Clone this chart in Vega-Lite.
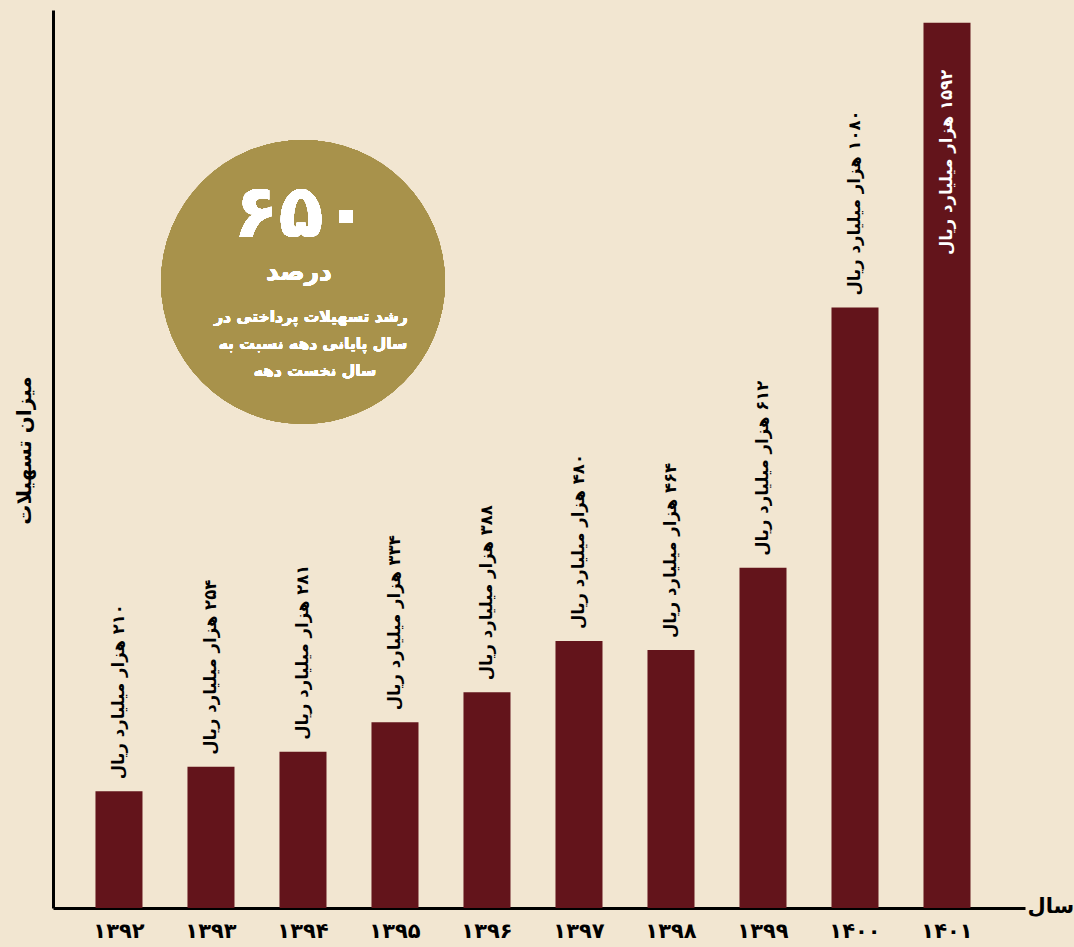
{
  "$schema": "https://vega.github.io/schema/vega-lite/v6.json",
  "width": 972,
  "height": 898,
  "autosize": {"type": "none"},
  "padding": {"left": 53, "top": 10, "right": 49, "bottom": 39},
  "background": "#f2e6d1",
  "config": {
    "view": {"stroke": null},
    "font": "DejaVu Sans",
    "axis": {"domainColor": "#000000", "domainWidth": 3, "ticks": false, "grid": false}
  },
  "data": {
    "values": [
      {"year": "۱۳۹۲", "value": 210, "label": "\u200f۲۱۰ هزار میلیارد ریال"},
      {"year": "۱۳۹۳", "value": 254, "label": "\u200f۲۵۴ هزار میلیارد ریال"},
      {"year": "۱۳۹۴", "value": 281, "label": "\u200f۲۸۱ هزار میلیارد ریال"},
      {"year": "۱۳۹۵", "value": 334, "label": "\u200f۳۳۴ هزار میلیارد ریال"},
      {"year": "۱۳۹۶", "value": 388, "label": "\u200f۳۸۸ هزار میلیارد ریال"},
      {"year": "۱۳۹۷", "value": 480, "label": "\u200f۴۸۰ هزار میلیارد ریال"},
      {"year": "۱۳۹۸", "value": 464, "label": "\u200f۴۶۴ هزار میلیارد ریال"},
      {"year": "۱۳۹۹", "value": 612, "label": "\u200f۶۱۲ هزار میلیارد ریال"},
      {"year": "۱۴۰۰", "value": 1080, "label": "\u200f۱۰۸۰ هزار میلیارد ریال"},
      {"year": "۱۴۰۱", "value": 1592, "label": "\u200f۱۵۹۲ هزار میلیارد ریال"}
    ]
  },
  "encoding": {
    "x": {
      "field": "year",
      "type": "ordinal",
      "sort": null,
      "scale": {"paddingInner": 0.489, "paddingOuter": 0.527, "align": 0.438},
      "axis": {
        "title": "سال",
        "titleFontSize": 21,
        "titleFontWeight": "bold",
        "titleColor": "#000000",
        "titleX": 974,
        "titleY": -2,
        "titleAlign": "left",
        "titleBaseline": "middle",
        "titleAngle": 0,
        "labelAngle": 0,
        "labelFontSize": 21,
        "labelFontWeight": "bold",
        "labelColor": "#000000",
        "labelPadding": 12,
        "labelBaseline": "top"
      }
    },
    "y": {
      "field": "value",
      "type": "quantitative",
      "scale": {"domain": [0, 1615], "nice": false},
      "axis": {
        "title": "میزان تسهیلات",
        "titleFontSize": 20,
        "titleFontWeight": "bold",
        "titleColor": "#000000",
        "titleX": -29,
        "titleY": 440,
        "titleAngle": 270,
        "titleAlign": "center",
        "titleBaseline": "middle",
        "labels": false
      }
    }
  },
  "layer": [
    {"mark": {"type": "bar", "color": "#63141b"}},
    {
      "transform": [{"filter": "datum.year != '۱۴۰۱'"}],
      "mark": {"type": "text", "angle": 270, "align": "left", "baseline": "middle", "dx": 12, "fontSize": 16.5, "fontWeight": "bold", "color": "#000000"},
      "encoding": {"text": {"field": "label"}}
    },
    {
      "transform": [{"filter": "datum.year == '۱۴۰۱'"}],
      "mark": {"type": "text", "angle": 270, "align": "right", "baseline": "middle", "dx": -47, "fontSize": 16.5, "fontWeight": "bold", "color": "#ffffff"},
      "encoding": {"text": {"field": "label"}}
    },
    {
      "mark": {"type": "point", "shape": "circle", "filled": true, "opacity": 1, "color": "#a8924b", "size": 80600},
      "encoding": {"x": {"datum": "۱۳۹۴"}, "y": {"datum": 1126}}
    },
    {
      "mark": {"type": "text", "align": "center", "baseline": "middle", "fontSize": 74, "fontWeight": "bold", "color": "#ffffff", "dx": -2},
      "encoding": {"x": {"datum": "۱۳۹۴"}, "y": {"datum": 1246}, "text": {"value": "۶۵۰"}}
    },
    {
      "mark": {"type": "text", "align": "center", "baseline": "middle", "fontSize": 25, "fontWeight": "bold", "color": "#ffffff", "dx": -4},
      "encoding": {"x": {"datum": "۱۳۹۴"}, "y": {"datum": 1144}, "text": {"value": "درصد"}}
    },
    {
      "mark": {"type": "text", "align": "center", "baseline": "middle", "fontSize": 15.5, "fontWeight": "bold", "color": "#ffffff", "dx": 8},
      "encoding": {"x": {"datum": "۱۳۹۴"}, "y": {"datum": 1063}, "text": {"value": "رشد تسهیلات پرداختی در"}}
    },
    {
      "mark": {"type": "text", "align": "center", "baseline": "middle", "fontSize": 15.5, "fontWeight": "bold", "color": "#ffffff", "dx": 10},
      "encoding": {"x": {"datum": "۱۳۹۴"}, "y": {"datum": 1014}, "text": {"value": "سال پایانی دهه نسبت به"}}
    },
    {
      "mark": {"type": "text", "align": "center", "baseline": "middle", "fontSize": 15.5, "fontWeight": "bold", "color": "#ffffff", "dx": 12},
      "encoding": {"x": {"datum": "۱۳۹۴"}, "y": {"datum": 965}, "text": {"value": "سال نخست دهه"}}
    }
  ]
}
